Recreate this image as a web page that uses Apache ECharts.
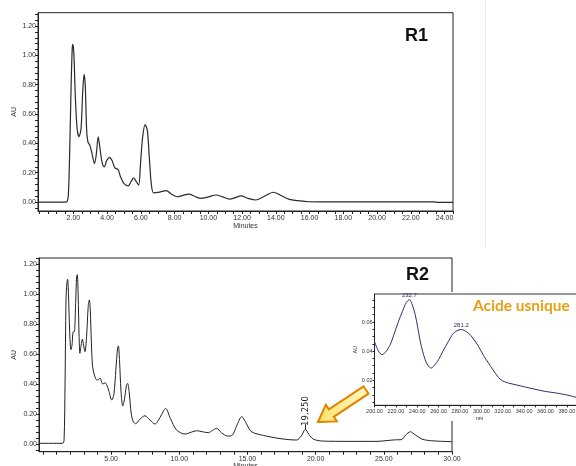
<!DOCTYPE html>
<html><head><meta charset="utf-8">
<script src="https://cdn.jsdelivr.net/npm/echarts@6/dist/echarts.min.js"></script>
<style>html,body{margin:0;padding:0;background:#fff}#c{width:576px;height:466px}</style>
</head><body><div id="c"></div>
<script>
// ---- data (time in minutes, absorbance AU) ----
const r1Data = [[-0.1,0],[1.5,0],[1.62,0.003],[1.7,0.05],[1.78,0.35],[1.86,0.78],[1.93,1.05],[1.97,1.075],[2.03,1.0],[2.12,0.7],[2.22,0.5],[2.33,0.445],[2.45,0.5],[2.55,0.75],[2.63,0.87],[2.7,0.8],[2.78,0.5],[2.86,0.41],[2.98,0.385],[3.1,0.33],[3.25,0.263],[3.35,0.32],[3.47,0.445],[3.58,0.36],[3.7,0.27],[3.83,0.24],[3.98,0.285],[4.15,0.305],[4.3,0.28],[4.45,0.235],[4.65,0.22],[4.8,0.17],[5.0,0.125],[5.24,0.11],[5.42,0.14],[5.57,0.165],[5.72,0.14],[5.87,0.116],[5.97,0.25],[6.1,0.44],[6.25,0.528],[6.38,0.49],[6.5,0.3],[6.62,0.12],[6.75,0.063],[7.1,0.068],[7.5,0.078],[7.8,0.055],[8.15,0.036],[8.5,0.046],[8.85,0.054],[9.2,0.038],[9.55,0.025],[10.0,0.035],[10.45,0.048],[10.85,0.035],[11.25,0.02],[11.6,0.03],[11.92,0.042],[12.35,0.025],[12.8,0.014],[13.3,0.038],[13.85,0.067],[14.3,0.045],[14.8,0.018],[15.3,0.01],[15.9,0.002],[17,0.001],[20,0.001],[23.4,0.001],[23.6,-0.002],[24.5,-0.002]];
const r2Data = [[-0.29,0.005],[1.45,0.005],[1.55,0.03],[1.62,0.4],[1.69,0.96],[1.76,1.08],[1.81,1.10],[1.87,1.0],[1.96,0.75],[2.05,0.63],[2.13,0.66],[2.22,0.75],[2.3,0.75],[2.4,0.95],[2.47,1.12],[2.52,1.13],[2.58,1.0],[2.65,0.72],[2.71,0.606],[2.8,0.66],[2.89,0.70],[2.98,0.66],[3.08,0.617],[3.2,0.72],[3.32,0.92],[3.4,0.962],[3.47,0.9],[3.55,0.68],[3.64,0.516],[3.78,0.46],[3.94,0.428],[4.06,0.43],[4.18,0.44],[4.3,0.415],[4.4,0.40],[4.55,0.41],[4.7,0.39],[4.85,0.35],[5.04,0.294],[5.2,0.33],[5.35,0.5],[5.47,0.64],[5.53,0.655],[5.62,0.55],[5.72,0.36],[5.85,0.254],[5.98,0.3],[6.12,0.39],[6.21,0.405],[6.32,0.35],[6.48,0.2],[6.63,0.149],[6.8,0.136],[7.1,0.165],[7.48,0.189],[7.85,0.16],[8.22,0.134],[8.6,0.18],[9.0,0.238],[9.35,0.17],[9.8,0.094],[10.42,0.067],[10.9,0.08],[11.27,0.089],[11.7,0.082],[12.13,0.076],[12.45,0.092],[12.74,0.105],[13.1,0.075],[13.55,0.053],[13.9,0.06],[14.2,0.12],[14.58,0.183],[14.9,0.14],[15.2,0.09],[15.5,0.073],[16.4,0.053],[17.5,0.035],[18.6,0.027],[18.95,0.055],[19.25,0.098],[19.5,0.065],[19.83,0.033],[20.5,0.02],[22.3,0.018],[24.5,0.018],[25.3,0.024],[25.8,0.028],[26.3,0.03],[26.6,0.06],[26.95,0.082],[27.3,0.062],[27.8,0.033],[28.5,0.022],[30,0.016]];
// UV spectrum of usnic acid (nm, AU)
const usnicData = [[200,0.0468],[203,0.041],[206.9,0.0376],[210,0.039],[214.7,0.0444],[218,0.051],[222.5,0.0605],[226,0.067],[228.7,0.0719],[231,0.0745],[232.7,0.0753],[235,0.0725],[238.1,0.065],[240.5,0.056],[242.8,0.0468],[245,0.040],[247.4,0.0341],[250,0.0302],[253,0.0284],[256,0.0302],[259.9,0.0341],[264,0.040],[269.2,0.0467],[273,0.0515],[277.1,0.054],[281.2,0.0549],[284,0.0542],[287.9,0.0524],[292,0.049],[297.3,0.0433],[302,0.037],[306.6,0.0319],[311,0.027],[316,0.022],[320,0.0195],[325.4,0.0181],[333,0.0168],[341,0.0154],[350,0.0139],[359.7,0.0124],[367,0.0116],[375.3,0.0106],[382,0.0096],[388.7,0.0083],[396,0.0072]];
const usnicPeaks = [[232.7,0.0753,'232.7'],[281.2,0.0549,'281.2']];
const r2Peak = [19.25, 0.098, '19,250'];
// tick labels
const r1XLabels = [2,4,6,8,10,12,14,16,18,20,22,24];
const r2XLabels = [5,10,15,20,25,30];
const auYLabels = [0,0.2,0.4,0.6,0.8,1.0,1.2];
const usnicXLabels = [200,220,240,260,280,300,320,340,360,380];
const usnicYLabels = [0.02,0.04,0.06];
const titles = ['R1','R2','Acide usnique'];

function steps(a,b,s){const o=[];for(let i=0;a+i*s<=b+1e-9;i++)o.push(+(a+i*s).toFixed(4));return o;}

const FONT = 'Liberation Sans';
function axisBase(extra){
  return Object.assign({
    axisLine:{show:true,onZero:false,lineStyle:{color:'#222',width:1}},
    axisTick:{show:true,inside:false,length:3,lineStyle:{color:'#222',width:1}},
    axisLabel:{fontSize:7,color:'#333',fontFamily:FONT,margin:2,formatter:v=>(+v).toFixed(2)},
    splitLine:{show:false},
    nameMoveOverlap:false,
    nameTextStyle:{fontSize:7,color:'#333',fontFamily:FONT}
  },extra);
}
function merge(base,over){for(const k in over){if(over[k]&&typeof over[k]==='object'&&!Array.isArray(over[k])&&base[k]&&typeof base[k]==='object'){base[k]=Object.assign({},base[k],over[k]);}else base[k]=over[k];}return base;}

const chart = echarts.init(document.getElementById('c'),null,{renderer:'canvas'});
const option = {
  animation:false,
  backgroundColor:'#fff',
  grid:[
    {left:38,top:12.7,width:415,height:198.3,show:true,borderColor:'#222',borderWidth:1,containLabel:false,outerBoundsMode:'none'},
    {left:39,top:258,width:413,height:193.7,show:true,borderColor:'#222',borderWidth:1,containLabel:false,outerBoundsMode:'none'},
    {left:374.5,top:294,width:230,height:111.3,show:true,borderColor:'#333',borderWidth:1,containLabel:false,outerBoundsMode:'none',z:5}
  ],
  xAxis:[
    merge(axisBase({gridIndex:0,type:'value',min:-0.1,max:24.5,name:'Minutes',nameLocation:'middle',nameGap:11.5}),
      {axisLabel:{customValues:r1XLabels,margin:4},axisTick:{customValues:steps(0,24.5,0.5)}}),
    merge(axisBase({gridIndex:1,type:'value',min:-0.29,max:30,name:'Minutes',nameLocation:'middle',nameGap:11}),
      {axisLabel:{customValues:r2XLabels,margin:4},axisTick:{customValues:steps(0,30,1)}}),
    merge(axisBase({gridIndex:2,type:'value',min:200,max:415.2,name:'nm',nameLocation:'middle',nameGap:10,z:5}),
      {axisLabel:{customValues:usnicXLabels,fontSize:5.5,margin:3},axisTick:{customValues:steps(200,410,10),length:2},nameTextStyle:{fontSize:5.5,padding:[0,20,0,0]}})
  ],
  yAxis:[
    merge(axisBase({gridIndex:0,type:'value',min:-0.061,max:1.291,name:'AU',nameLocation:'middle',nameGap:20}),
      {axisLabel:{customValues:auYLabels},axisTick:{customValues:steps(-0.04,1.28,0.04)}}),
    merge(axisBase({gridIndex:1,type:'value',min:-0.051,max:1.242,name:'AU',nameLocation:'middle',nameGap:21}),
      {axisLabel:{customValues:auYLabels},axisTick:{customValues:steps(-0.04,1.24,0.04)}}),
    merge(axisBase({gridIndex:2,type:'value',min:0.00285,max:0.0792,name:'AU',nameLocation:'middle',nameGap:16,z:5}),
      {axisLabel:{customValues:usnicYLabels,fontSize:5.5},axisTick:{customValues:steps(0.005,0.075,0.005),length:2},nameTextStyle:{fontSize:5.5}})
  ],
  series:[
    {type:'line',xAxisIndex:0,yAxisIndex:0,data:r1Data,showSymbol:false,smooth:0.3,
      lineStyle:{color:'#2a2a2a',width:1.2}},
    {type:'line',xAxisIndex:1,yAxisIndex:1,data:r2Data,showSymbol:false,smooth:0.3,
      lineStyle:{color:'#222',width:1},
      markLine:{silent:true,symbol:'none',label:{show:false},lineStyle:{color:'#222',width:1,type:'solid'},
        data:[[{coord:[r2Peak[0],r2Peak[1]]},{coord:[r2Peak[0],r2Peak[1]+0.035]}]]},
      markPoint:{silent:true,symbol:'circle',symbolSize:1,itemStyle:{color:'rgba(0,0,0,0)'},
        data:[{coord:[r2Peak[0],r2Peak[1]],value:r2Peak[2]}],
        label:{show:true,position:'top',distance:4,offset:[-1,0],rotate:90,align:'left',verticalAlign:'middle',
          formatter:'{c}',fontSize:8.5,color:'#222',fontFamily:'DejaVu Sans'}}},
    {type:'line',xAxisIndex:2,yAxisIndex:2,data:usnicData,showSymbol:false,smooth:0.3,z:10,
      lineStyle:{color:'#2e2e6e',width:1},
      markPoint:{silent:true,symbol:'circle',symbolSize:1,itemStyle:{color:'rgba(0,0,0,0)'},
        data:usnicPeaks.map(p=>({coord:[p[0],p[1]],value:p[2]})),
        label:{show:true,position:'top',distance:1,formatter:'{c}',fontSize:6,color:'#2e2e6e',fontFamily:FONT}}}
  ],
  graphic:[
    {type:'line',z:1,shape:{x1:485.5,y1:0,x2:485.5,y2:248},style:{stroke:'#ececec',lineWidth:1}},
    {type:'rect',z:3,shape:{x:352,y:292,width:224,height:129},style:{fill:'#fff'}},
    {type:'polygon',z:60,shape:{points:[[318,422],[336.9,421.4],[333.8,416.8],[368.5,393.7],[363.5,386.3],[328.8,409.4],[325.8,404.8]]},
      style:{fill:new echarts.graphic.LinearGradient(0,0,1,0,[{offset:0,color:'#fbe36a'},{offset:1,color:'#fff8c8'}]),stroke:'#e08400',lineWidth:2,lineJoin:'miter'}},
    {type:'text',z:60,left:405,top:27,style:{text:titles[0],font:'bold 18px "Liberation Sans"',fill:'#111'}},
    {type:'text',z:60,left:406,top:266,style:{text:titles[1],font:'bold 18px "Liberation Sans"',fill:'#111'}},
    {type:'text',z:60,left:473,top:298,style:{text:titles[2],font:'bold 15.5px Lato',fill:'#e6a013'}}
  ]
};
chart.setOption(option);
</script></body></html>
